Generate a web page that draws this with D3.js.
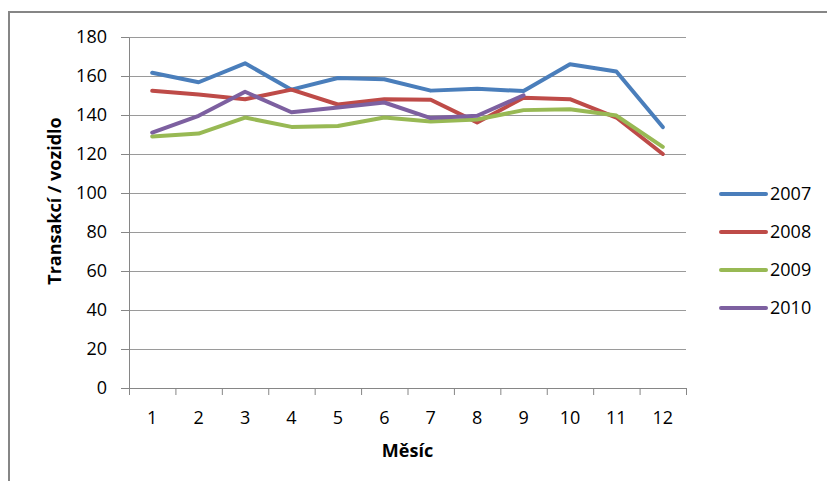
<!DOCTYPE html>
<html>
<head>
<meta charset="utf-8">
<script src="https://cdn.jsdelivr.net/npm/d3@7"></script>
<style>
  body { margin: 0; background: #fff; }
  svg text { font-family: "Open Sans", sans-serif; fill: #000; }
</style>
</head>
<body>
<svg id="chart" width="827" height="481"></svg>
<script>
// data
let months = [1, 2, 3, 4, 5, 6, 7, 8, 9, 10, 11, 12];
let yearTicks = [0, 20, 40, 60, 80, 100, 120, 140, 160, 180];
let years = ["2007", "2008", "2009", "2010"];
let v2007 = [161.7, 156.8, 166.5, 153.0, 159.0, 158.3, 152.5, 153.4, 152.3, 166.0, 162.3, 133.8];
let v2008 = [152.4, 150.5, 148.1, 153.0, 145.4, 148.1, 147.8, 136.2, 148.8, 148.1, 138.7, 120.0];
let v2009 = [129.0, 130.5, 138.7, 133.9, 134.4, 138.7, 136.7, 137.7, 142.5, 143.0, 139.7, 123.7];
let v2010 = [131.0, 139.6, 151.9, 141.4, 143.8, 146.4, 138.4, 139.6, 150.1];

let colors = ["#4a7ebb", "#be4b48", "#98b954", "#7d60a0"];
let seriesValues = [v2007, v2008, v2009, v2010];

let svg = d3.select("#chart");

let plotLeft = 129, plotRight = 686, plotTop = 37, plotBottom = 388;

// outer frame of the chart object
svg.append("rect")
    .attr("x", 9).attr("y", 12)
    .attr("width", 900).attr("height", 600)
    .attr("fill", "none")
    .attr("stroke", "#868686")
    .attr("stroke-width", 2);

let x = d3.scaleBand().domain(months).range([plotLeft, plotRight]).padding(0);
let xEdge = d3.scaleLinear().domain([0, 12]).range([plotLeft, plotRight]);
let y = d3.scaleLinear().domain([0, 180]).range([plotBottom, plotTop]);

// gridlines
svg.append("g")
    .attr("transform", `translate(${plotLeft},0)`)
    .call(d3.axisRight(y).tickValues(yearTicks).tickSize(plotRight - plotLeft).tickFormat(""))
    .call(g => g.select(".domain").remove())
    .selectAll("line")
    .attr("stroke", "#9a9a9a");

// y axis
let yAxis = svg.append("g")
    .attr("transform", `translate(${plotLeft},0)`)
    .call(d3.axisLeft(y).tickValues(yearTicks).tickSize(8).tickPadding(14).tickSizeOuter(0));
yAxis.select(".domain").attr("stroke", "#868686");
yAxis.selectAll("line").attr("stroke", "#868686");
yAxis.selectAll("text").style("font-size", "18px");

// x axis ticks sit on the category boundaries
let xTicks = svg.append("g")
    .attr("transform", `translate(0,${plotBottom})`)
    .call(d3.axisBottom(xEdge).ticks(12).tickSize(7).tickFormat("").tickSizeOuter(0));
xTicks.select(".domain").attr("stroke", "#868686");
xTicks.selectAll("line").attr("stroke", "#868686");

let xLabels = svg.append("g")
    .attr("transform", `translate(0,${plotBottom})`)
    .call(d3.axisBottom(x).tickSize(0));
xLabels.select(".domain").remove();
xLabels.selectAll("text")
    .attr("y", 36).attr("dy", 0)
    .style("font-size", "18px");

// series lines
let line = d3.line()
    .x((d, i) => x(months[i]) + x.bandwidth() / 2)
    .y(d => y(d));

seriesValues.forEach(function(vals, i) {
    svg.append("path")
        .datum(vals)
        .attr("d", line)
        .attr("fill", "none")
        .attr("stroke", colors[i])
        .attr("stroke-width", 4)
        .attr("stroke-linejoin", "round")
        .attr("stroke-linecap", "round");
});

// axis titles
svg.append("text")
    .attr("x", (plotLeft + plotRight) / 2).attr("y", 457)
    .attr("text-anchor", "middle")
    .style("font-size", "18px").style("font-weight", "bold")
    .text("Měsíc");

svg.append("text")
    .attr("transform", "translate(61,201) rotate(-90)")
    .attr("text-anchor", "middle")
    .style("font-size", "18px").style("font-weight", "bold")
    .text("Transakcí / vozidlo");

// legend
let legend = svg.append("g");
years.forEach(function(name, i) {
    let ly = 194 + i * 38;
    legend.append("line")
        .attr("x1", 721).attr("x2", 766)
        .attr("y1", ly).attr("y2", ly)
        .attr("stroke", colors[i])
        .attr("stroke-width", 4)
        .attr("stroke-linecap", "round");
    legend.append("text")
        .attr("x", 770).attr("y", ly).attr("dy", "0.36em")
        .style("font-size", "18px")
        .text(name);
});
</script>
</body>
</html>
